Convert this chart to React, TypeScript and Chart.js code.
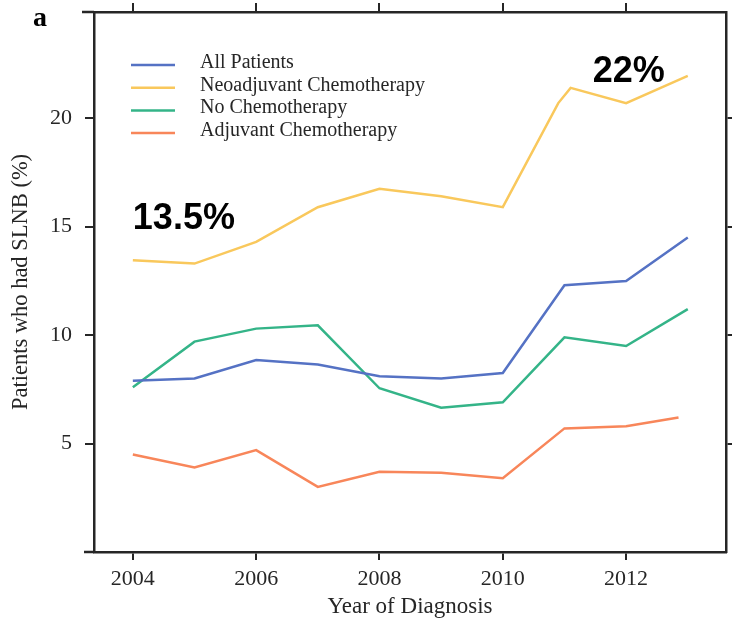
import React, { useEffect, useRef } from 'react';
import { Chart, registerables } from 'chart.js';

Chart.register(...registerables);

// ---- data ----
const years = [2004, 2005, 2006, 2007, 2008, 2009, 2010, 2011, 2012, 2013];
const allPatients = [7.9, 8.0, 8.85, 8.65, 8.1, 8.0, 8.25, 12.3, 12.5, 14.5];
const neoYears = [2004, 2005, 2006, 2007, 2008, 2009, 2010, 2010.9, 2011.1, 2012, 2013];
const neoadjuvant = [13.45, 13.3, 14.3, 15.9, 16.75, 16.4, 15.9, 20.7, 21.4, 20.7, 21.95];
const noChemo = [7.6, 9.7, 10.3, 10.45, 7.55, 6.65, 6.9, 9.9, 9.5, 11.2];
const adjYears = [2004, 2005, 2006, 2007, 2008, 2009, 2010, 2011, 2012, 2012.85];
const adjuvant = [4.5, 3.9, 4.7, 3.0, 3.7, 3.65, 3.4, 5.7, 5.8, 6.2];
const seriesLabels = ['All Patients', 'Neoadjuvant Chemotherapy', 'No Chemotherapy', 'Adjuvant Chemotherapy'];
const seriesColors = ['#5572c4', '#f9c85c', '#34b488', '#f8865a'];
const xTicks = [2004, 2006, 2008, 2010, 2012];
const yTicks = [5, 10, 15, 20];
const xTitle = 'Year of Diagnosis';
const yTitle = 'Patients who had SLNB (%)';
const noteStart = '13.5%';
const noteEnd = '22%';
const panelLabel = 'a';

const X_MIN = 2003.37;
const X_MAX = 2013.62;
const Y_MIN = 0;
const Y_MAX = 24.9;

const SERIF = '"Liberation Serif", "Times New Roman", serif';
const AXIS_COLOR = '#262626';
const TEXT_COLOR = '#262626';

const pts = (xs: number[], ys: number[]) => xs.map((x, i) => ({ x, y: ys[i] }));

const overlayPlugin = {
  id: 'overlay',
  afterDraw(chart: any) {
    const { ctx, chartArea, scales } = chart;
    ctx.save();
    // small frame overhangs to the left of the y axis
    ctx.strokeStyle = AXIS_COLOR;
    ctx.lineWidth = 2.5;
    ctx.beginPath();
    ctx.moveTo(chartArea.left - 12, chartArea.top);
    ctx.lineTo(chartArea.left, chartArea.top);
    ctx.moveTo(chartArea.left - 10, chartArea.bottom);
    ctx.lineTo(chartArea.left, chartArea.bottom);
    ctx.stroke();
    // legend inside the plot
    chart.data.datasets.forEach((ds: any, i: number) => {
      const y = chartArea.top + 53 + i * 22.7;
      ctx.strokeStyle = ds.borderColor;
      ctx.lineWidth = 2.5;
      ctx.beginPath();
      ctx.moveTo(chartArea.left + 37, y);
      ctx.lineTo(chartArea.left + 81, y);
      ctx.stroke();
      ctx.fillStyle = TEXT_COLOR;
      ctx.font = `20px ${SERIF}`;
      ctx.textAlign = 'left';
      ctx.textBaseline = 'alphabetic';
      ctx.fillText(ds.label, chartArea.left + 106, y + 3);
    });
    // annotations
    ctx.fillStyle = '#000';
    ctx.font = 'bold 36px "Liberation Sans", Arial, sans-serif';
    ctx.textAlign = 'left';
    ctx.textBaseline = 'alphabetic';
    ctx.fillText(noteStart, scales.x.getPixelForValue(2004), scales.y.getPixelForValue(14.9));
    ctx.fillText(noteEnd, scales.x.getPixelForValue(2011.46), scales.y.getPixelForValue(21.66));
    // panel label
    ctx.font = `bold 28px ${SERIF}`;
    ctx.fillText(panelLabel, 33, 26);
    ctx.restore();
  },
};

const gridOpts = (len: number) => ({
  drawOnChartArea: false,
  drawTicks: true,
  tickLength: len,
  color: AXIS_COLOR,
  lineWidth: 2,
});
const borderOpts = { display: true, color: AXIS_COLOR, width: 2.5 };

const noPad = (s: any) => {
  s.paddingTop = 0;
  s.paddingBottom = 0;
  s.paddingLeft = 0;
  s.paddingRight = 0;
};

export default function App() {
  const ref = useRef<HTMLCanvasElement | null>(null);

  useEffect(() => {
    if (!ref.current) return;
    const chart = new Chart(ref.current, {
      type: 'line',
      data: {
        datasets: [
          { label: seriesLabels[0], data: pts(years, allPatients), borderColor: seriesColors[0] },
          { label: seriesLabels[1], data: pts(neoYears, neoadjuvant), borderColor: seriesColors[1] },
          { label: seriesLabels[2], data: pts(years, noChemo), borderColor: seriesColors[2] },
          { label: seriesLabels[3], data: pts(adjYears, adjuvant), borderColor: seriesColors[3] },
        ].map((d) => ({
          ...d,
          xAxisID: 'x',
          yAxisID: 'y',
          backgroundColor: d.borderColor,
          borderWidth: 2.5,
          pointRadius: 0,
          tension: 0,
          fill: false,
        })),
      },
      options: {
        animation: false,
        responsive: false,
        maintainAspectRatio: false,
        layout: { padding: 0 },
        plugins: { legend: { display: false }, tooltip: { enabled: false } },
        scales: {
          x: {
            type: 'linear',
            position: 'bottom',
            min: X_MIN,
            max: X_MAX,
            afterBuildTicks: (s: any) => {
              s.ticks = xTicks.map((v) => ({ value: v }));
            },
            afterFit: (s: any) => {
              s.height = 68;
              noPad(s);
            },
            grid: gridOpts(8),
            border: borderOpts,
            ticks: {
              font: { family: SERIF, size: 22 },
              color: TEXT_COLOR,
              padding: 6,
              maxRotation: 0,
              autoSkip: false,
              callback: (v: any) => String(v),
            },
            title: {
              display: true,
              text: xTitle,
              font: { family: SERIF, size: 23, lineHeight: 1 },
              color: TEXT_COLOR,
              padding: { top: 0, bottom: 2 },
            },
          },
          x2: {
            type: 'linear',
            position: 'top',
            min: X_MIN,
            max: X_MAX,
            afterBuildTicks: (s: any) => {
              s.ticks = xTicks.map((v) => ({ value: v }));
            },
            afterFit: (s: any) => {
              s.height = 12;
              noPad(s);
            },
            grid: gridOpts(9),
            border: borderOpts,
            ticks: { display: false },
          },
          y: {
            type: 'linear',
            position: 'left',
            min: Y_MIN,
            max: Y_MAX,
            afterBuildTicks: (s: any) => {
              s.ticks = yTicks.map((v) => ({ value: v }));
            },
            afterFit: (s: any) => {
              s.width = 94;
              noPad(s);
            },
            grid: gridOpts(9),
            border: borderOpts,
            ticks: {
              font: { family: SERIF, size: 22 },
              color: TEXT_COLOR,
              padding: 13,
              callback: (v: any) => String(v),
            },
            title: {
              display: true,
              text: yTitle,
              font: { family: SERIF, size: 22.5, lineHeight: 1.2 },
              color: TEXT_COLOR,
              padding: { top: 8, bottom: 0 },
            },
          },
          y2: {
            type: 'linear',
            position: 'right',
            min: Y_MIN,
            max: Y_MAX,
            afterBuildTicks: (s: any) => {
              s.ticks = yTicks.map((v) => ({ value: v }));
            },
            afterFit: (s: any) => {
              s.width = 6;
              noPad(s);
            },
            grid: gridOpts(6),
            border: borderOpts,
            ticks: { display: false },
          },
        },
      },
      plugins: [overlayPlugin],
    } as any);
    return () => chart.destroy();
  }, []);

  return (
    <div style={{ position: 'fixed', left: 0, top: 0, width: 732, height: 620, background: '#fff' }}>
      <canvas ref={ref} width={732} height={620} style={{ display: 'block', width: 732, height: 620 }} />
    </div>
  );
}
